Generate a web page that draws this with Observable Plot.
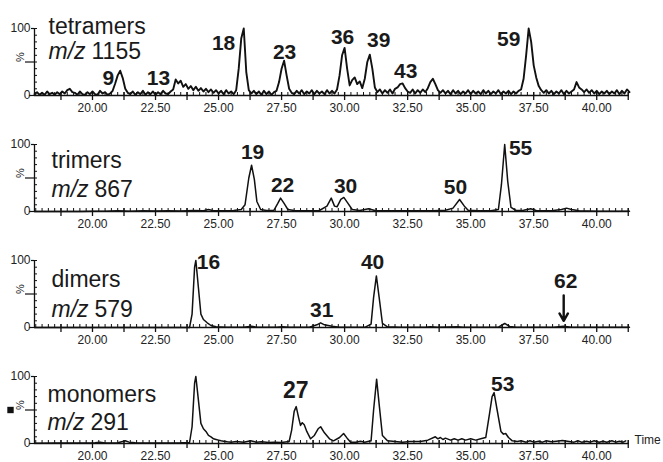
<!DOCTYPE html>
<html><head><meta charset="utf-8">
<script src="https://cdn.jsdelivr.net/npm/d3@7"></script>
<script src="https://cdn.jsdelivr.net/npm/@observablehq/plot@0.6"></script>
<style>
html,body{margin:0;padding:0;background:#fff;}
#chart svg{display:block;}
</style></head><body><div id="chart"></div>
<script>
// ---------- axis ----------
const timeStart = 17.7, timeEnd = 41.3;
const xTickValues = [20, 22.5, 25, 27.5, 30, 32.5, 35, 37.5, 40];
const xTickLabels = ["20.00","22.50","25.00","27.50","30.00","32.50","35.00","37.50","40.00"];
const yTickValues = [0, 100];
const yTickLabels = ["0", "100"];

// ---------- tetramers m/z 1155 (sampled every 0.1 min from 17.7) ----------
const tetramerStep = 0.1;
const tetramerValues = [
  2, 5, 1,
  4, 1, 6, 2, 4, 1, 5, 2, 6, 3,
  8, 10, 5, 4, 1, 6, 2, 1, 5, 2,
  6, 2, 1, 7, 3, 5, 1, 3, 7, 18,
  30, 37, 26, 10, 4, 2, 6, 1, 5, 2,
  7, 1, 5, 2, 6, 1, 5, 2, 7, 3,
  2, 6, 9, 24, 18, 22, 13, 17, 10, 14,
  8, 13, 7, 11, 6, 10, 5, 9, 4, 8,
  3, 7, 2, 8, 3, 6, 2, 8, 40, 85,
  100, 35, 8, 3, 7, 2, 6, 1, 7, 2,
  6, 1, 5, 7, 20, 40, 52, 30, 10, 4,
  2, 7, 3, 8, 2, 6, 3, 8, 2, 7,
  3, 6, 2, 8, 3, 7, 3, 9, 30, 60,
  71, 40, 15, 23, 27, 17, 21, 11, 25, 50,
  61, 40, 12, 5, 9, 3, 8, 4, 9, 3,
  10, 12, 17, 18, 11, 6, 4, 9, 3, 8,
  4, 9, 5, 11, 20, 25, 17, 8, 4, 8,
  3, 7, 2, 8, 3, 7, 2, 6, 3, 8,
  2, 7, 3, 6, 2, 8, 3, 7, 2, 6,
  3, 8, 2, 6, 3, 7, 2, 6, 3, 7,
  9, 25, 60, 100, 80, 45, 27, 14, 8, 4,
  8, 3, 7, 2, 6, 3, 8, 2, 7, 3,
  6, 9, 20, 12, 9, 5, 9, 4, 8, 3,
  7, 2, 6, 3, 7, 2, 6, 3, 8, 2,
  7, 3, 9, 5
];
const tetramerTimes = tetramerValues.map((_, i) => +(timeStart + i * tetramerStep).toFixed(2));
const tetramerPeakIds = ["9","13","18","23","36","39","43","59"];
const tetramerPeakTimes = [20.63, 22.62, 25.20, 27.62, 29.92, 31.35, 32.42, 36.51];
const tetramerPeakLevels = [25, 25, 78, 64, 87, 82, 36, 84];

// ---------- trimers m/z 867 ----------
const trimerTimes = [17.7,19.5,20,20.5,21,21.5,22,22.5,23,23.5,24,24.4,24.6,24.8,25.2,25.6,25.9,26.05,26.2,26.31,26.42,26.52,26.67,26.9,27.2,27.35,27.46,27.6,27.75,28,28.5,29,29.3,29.47,29.6,29.7,29.85,29.97,30.1,30.3,30.6,30.95,31.2,31.6,32,32.5,33,33.5,34,34.3,34.56,34.75,34.9,35.3,35.8,36.1,36.22,36.35,36.47,36.6,36.8,37.1,37.38,37.6,38.2,38.6,38.8,39,39.3,40,41,41.3];
const trimerValues = [0,0,0.5,0.3,1,0.5,1,0.6,1.2,0.8,1.5,1,3,1,1,1.5,3,10,50,69,48,15,3,1.5,2,12,20,12,3,1.5,1,1.5,8,20,8,7,18,21,14,3,1.5,4,1.5,1,1,1.2,1,1.3,2,5,18,8,2,1,1,3,40,100,45,6,1.5,2,4,1.5,1,3,5,3,1,0.5,0.3,0.3];
const trimerPeakIds = ["19","22","30","50","55"];
const trimerPeakTimes = [26.35, 27.54, 30.04, 34.40, 36.98];
const trimerPeakLevels = [88, 39, 37, 36, 95];

// ---------- dimers m/z 579 ----------
const dimerTimes = [17.7,23.85,23.95,24.05,24.1,24.2,24.3,24.4,24.55,24.7,24.9,25.3,26,26.3,26.5,27.3,27.53,27.8,28.6,28.9,29.05,29.2,29.5,29.8,30.8,31.05,31.15,31.26,31.37,31.5,31.7,32.2,33.2,33.4,33.7,34.5,34.7,35.5,36.1,36.35,36.55,36.8,38.3,38.68,39,41.3];
const dimerValues = [0,0,20,90,100,60,20,12,7,3,1,0.3,0.3,2,0.5,0.3,1.2,0.3,0.5,4,7,4,2,0.5,0.3,5,45,77,45,6,1,0.5,0.5,1.2,0.5,1,0.5,0.3,0.5,6,1.5,0.3,0.5,2,0.5,0.3];
const dimerPeakIds = ["16","31","40","62"];
const dimerPeakTimes = [24.60, 29.09, 31.11, 38.77];
const dimerPeakLevels = [98, 25, 97, 69];
const dimerArrow = [{t: 38.69, from: 48, to: 10}];

// ---------- monomers m/z 291 ----------
const monomerTimes = [17.7,18.5,19.5,20.1,20.3,20.5,21,21.2,21.3,21.45,21.7,22.5,23.5,23.85,23.95,24.05,24.1,24.2,24.3,24.4,24.5,24.6,24.7,24.8,24.9,25,25.1,25.2,25.35,25.5,25.7,26,26.27,26.5,26.7,27,27.2,27.5,27.8,27.9,28,28.08,28.18,28.25,28.32,28.4,28.5,28.65,28.8,28.95,29.05,29.2,29.4,29.56,29.8,29.96,30.1,30.24,30.45,30.63,30.8,31.05,31.15,31.27,31.38,31.5,31.7,32,32.3,32.6,33,33.3,33.6,33.7,33.8,33.9,34,34.2,34.35,34.5,34.65,34.8,35,35.2,35.4,35.6,35.75,35.85,35.93,36.05,36.2,36.3,36.39,36.5,36.65,36.85,37,37.2,37.35,37.5,37.7,37.85,38,38.2,38.4,38.64,38.9,39.1,39.25,39.4,39.6,39.75,39.9,40.1,40.25,40.4,40.6,40.75,40.9,41.05,41.15];
const monomerValues = [0.5,0.8,0.8,1,2,0.8,1,3,4,2,1,0.8,1,1.5,25,90,100,65,30,22,18,12,10,7,6,5,4,3.5,2.5,2,3,2,4,2,2.5,1.5,2,1.5,3,20,48,55,38,27,31,28,18,7,12,22,25,16,7,4,9,15,8,2,2,3.5,2,4,50,96,55,12,4,3,2,3,3,5,10,7,9,6,8,5,7,5,7,5,7,5,7,9,45,70,76,50,18,14,15,9,4,3,4,2,4,2,3.5,2,4,2.5,3.5,4.5,3,2,4,2,3.5,2,4,2,3.5,2,4,2,3.5,2,4,3];
const monomerPeakIds = ["27","53"];
const monomerPeakTimes = [28.06, 36.27];
const monomerPeakLevels = [79, 88];

// ---------- layout ----------
const ink = "#111";
const minorX = d3.range(17.75, 41.3, 0.25);
const majorX = d3.range(18.75, 41.3, 1.25);
const yMinor = d3.range(0, 101, 10);

const panels = [
  {name: "tetramers", mz: "1155", time: tetramerTimes, values: tetramerValues, ids: tetramerPeakIds, lt: tetramerPeakTimes, lv: tetramerPeakLevels, height: 116, sw: 1.9, tx: 14, ty1: 5, ty2: 30},
  {name: "trimers", mz: "867", time: trimerTimes, values: trimerValues, ids: trimerPeakIds, lt: trimerPeakTimes, lv: trimerPeakLevels, height: 116, sw: 1.5, tx: 17, ty1: 23, ty2: 52},
  {name: "dimers", mz: "579", time: dimerTimes, values: dimerValues, ids: dimerPeakIds, lt: dimerPeakTimes, lv: dimerPeakLevels, height: 116, sw: 1.5, tx: 17, ty1: 26, ty2: 56, arrow: dimerArrow},
  {name: "monomers", mz: "291", time: monomerTimes, values: monomerValues, ids: monomerPeakIds, lt: monomerPeakTimes, lv: monomerPeakLevels, height: 114, sw: 1.5, tx: 13, ty1: 25, ty2: 53, last: true}
];

function panelPlot(p) {
  const mt = 28, mb = p.height - mt - 67;
  const series = p.time.map((t, i) => ({t, v: p.values[i]}));
  const labels = p.ids.map((id, i) => ({id, t: p.lt[i], v: p.lv[i]}));
  const marks = [
    Plot.ruleY([0], {stroke: ink, strokeWidth: 1.3}),
    Plot.ruleX([timeStart], {y1: 0, y2: 100, stroke: ink, strokeWidth: 1.3}),
    Plot.ruleX(minorX, {x: d => d, y1: 0, y2: 0, insetTop: -3, stroke: ink, strokeWidth: 1}),
    Plot.ruleX(majorX, {x: d => d, y1: 0, y2: 0, insetTop: -3, insetBottom: -5, stroke: ink, strokeWidth: 1.3}),
    Plot.text(xTickValues, {x: d => d, y: 0, text: (d, i) => xTickLabels[i], dy: 8, lineAnchor: "top", fontSize: 12, fill: "#222"}),
    Plot.ruleY(yMinor, {y: d => d, x1: timeStart, x2: timeStart, insetRight: -3, stroke: ink}),
    Plot.ruleY([0], {x1: timeStart, x2: timeStart, insetLeft: -5, stroke: ink, strokeWidth: 1.2}),
    Plot.ruleY([50], {x1: timeStart, x2: timeStart, insetLeft: -9, stroke: ink, strokeWidth: 1.2}),
    Plot.ruleY([100], {x1: timeStart, x2: timeStart, insetLeft: -3, stroke: ink, strokeWidth: 1.2}),
    Plot.text(yTickValues, {x: timeStart, y: d => d, text: (d, i) => yTickLabels[i], dx: -4, textAnchor: "end", fontSize: 12, fill: "#222"}),
    Plot.text(["%"], {frameAnchor: "left", dx: -14, rotate: -90, fontSize: 11, fill: "#222"}),
    Plot.line(series, {x: "t", y: "v", stroke: ink, strokeWidth: p.sw, strokeLinejoin: "round"}),
    Plot.text(labels, {x: "t", y: "v", text: "id", fontWeight: "bold", fontSize: d => d.id === "27" ? 23 : 21, fill: "#1a1a1a"}),
    Plot.text([p.name], {frameAnchor: "top-left", dx: p.tx, dy: p.ty1, lineAnchor: "bottom", textAnchor: "start", fontSize: 23, fill: "#1a1a1a"}),
    Plot.text(["m/z"], {frameAnchor: "top-left", dx: p.tx, dy: p.ty2, lineAnchor: "bottom", textAnchor: "start", fontSize: 23, fontStyle: "italic", fill: "#1a1a1a"}),
    Plot.text([p.mz], {frameAnchor: "top-left", dx: p.tx + 43, dy: p.ty2, lineAnchor: "bottom", textAnchor: "start", fontSize: 23, fill: "#1a1a1a"})
  ];
  if (p.arrow) {
    marks.push(Plot.arrow(p.arrow, {x1: "t", y1: "from", x2: "t", y2: "to", stroke: ink, strokeWidth: 2.4, headLength: 8}));
  }
  if (p.last) {
    marks.push(Plot.text(["Time"], {frameAnchor: "bottom-right", dx: 5, textAnchor: "start", fontSize: 12, fill: "#222"}));
    marks.push(Plot.dot([0], {frameAnchor: "left", dx: -24, symbol: "square", r: 3.6, fill: ink, stroke: null}));
  }
  return Plot.plot({
    width: 663, height: p.height,
    marginLeft: 34, marginRight: 34, marginTop: mt, marginBottom: mb,
    x: {domain: [timeStart, timeEnd], axis: null},
    y: {domain: [0, 100], axis: null},
    style: {fontFamily: "'Liberation Sans', Arial, Helvetica, sans-serif", overflow: "visible", background: "transparent"},
    marks
  });
}

const root = document.getElementById("chart");
panels.forEach(p => root.appendChild(panelPlot(p)));
</script></body></html>
